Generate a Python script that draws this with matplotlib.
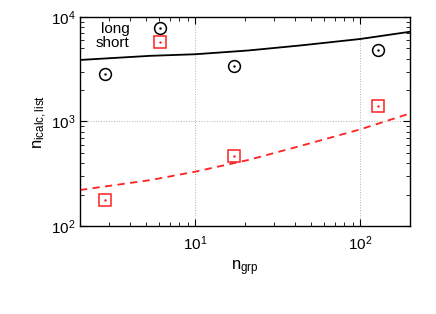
#!/usr/bin/env python
import numpy as np
import matplotlib
matplotlib.use("Agg")
import matplotlib.pyplot as plt
from matplotlib.ticker import LogLocator, NullFormatter
from matplotlib.lines import Line2D

plt.rcParams["font.family"] = ["Liberation Sans", "DejaVu Sans"]
plt.rcParams["mathtext.fontset"] = "custom"
plt.rcParams["mathtext.rm"] = "Liberation Sans"
plt.rcParams["mathtext.it"] = "Liberation Sans"
plt.rcParams["mathtext.default"] = "regular"

# measured points
n_grp = [2.85, 17.2, 128]
n_long = [2850, 3420, 4860]
n_short = [176, 464, 1397]

# fitted curves
fit_x = [2.0, 5.34, 10.0, 20.9, 43.3, 100, 201]
fit_long = [3880, 4250, 4400, 4780, 5340, 6160, 7230]
fit_short = [221, 275, 331, 428, 583, 841, 1197]

RED = "#ff2020"

fig = plt.figure(figsize=(4.36, 3.14), dpi=100)
ax = fig.add_axes([0.1835, 0.2803, 0.9404 - 0.1835, 0.9459 - 0.2803])

ax.plot(fit_x, fit_long, color="black", lw=1.3)
ax.plot(fit_x, fit_short, color=RED, lw=1.3, dashes=(4, 3))

circ = dict(ls="none", marker="o", ms=8.5, mfc="none", mec="black", mew=1.1)
sq = dict(ls="none", marker="s", ms=8, mfc="none", mec=RED, mew=1.1)
ax.plot(n_grp, n_long, **circ)
ax.plot(n_grp, n_long, ls="none", marker=".", ms=1.5, color="black")
ax.plot(n_grp, n_short, **sq)
ax.plot(n_grp, n_short, ls="none", marker=".", ms=1.5, color=RED)

ax.set_xscale("log")
ax.set_yscale("log")
ax.set_xlim(2, 200)
ax.set_ylim(100, 10000)

ax.xaxis.set_minor_locator(LogLocator(base=10, subs=np.arange(2, 10)))
ax.yaxis.set_minor_locator(LogLocator(base=10, subs=np.arange(2, 10)))
ax.xaxis.set_minor_formatter(NullFormatter())
ax.yaxis.set_minor_formatter(NullFormatter())
ax.tick_params(which="both", direction="in", top=True, right=True, labelsize=11)
ax.tick_params(which="major", length=5, width=0.8)
ax.tick_params(which="minor", length=3, width=0.6)
ax.tick_params(axis="x", which="major", pad=6)
ax.grid(True, which="major", color="#b0b0b0", ls=":", lw=0.7)
for s in ax.spines.values():
    s.set_linewidth(1.0)

ax.set_xlabel("$n_{grp}$", fontsize=12, labelpad=4)
ax.set_ylabel("$n_{icalc,list}$", fontsize=12, labelpad=1)

handles = [
    (Line2D([], [], **circ), Line2D([], [], ls="none", marker=".", ms=1.5, color="black")),
    (Line2D([], [], **sq), Line2D([], [], ls="none", marker=".", ms=1.5, color=RED)),
]
ax.legend(handles, ["long", "short"], loc="upper left", bbox_to_anchor=(0.03, 1.005),
          frameon=False, markerfirst=False, fontsize=11, handlelength=1.5,
          handletextpad=1.2, labelspacing=0.0, borderaxespad=0)

fig.savefig("out.png", dpi=100)
